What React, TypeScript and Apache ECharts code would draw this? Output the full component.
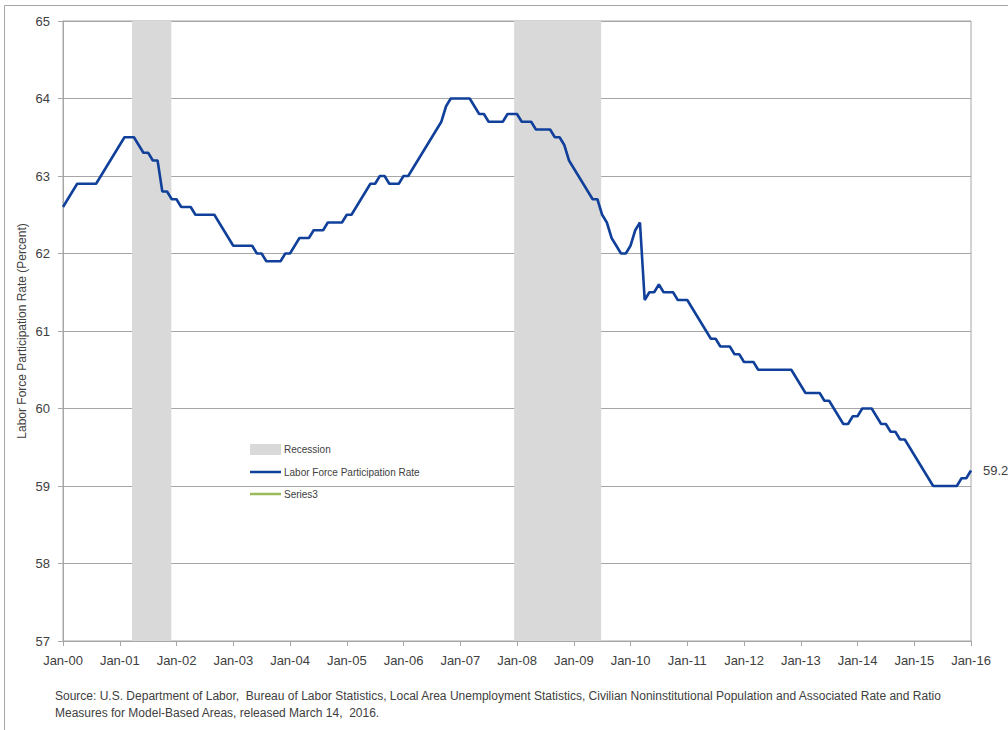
import React, { useEffect, useRef } from "react";
import * as echarts from "echarts";

// Tick labels along the x axis (one per January)
const xTickLabels = [
  "Jan-00", "Jan-01", "Jan-02", "Jan-03", "Jan-04", "Jan-05", "Jan-06", "Jan-07", "Jan-08",
  "Jan-09", "Jan-10", "Jan-11", "Jan-12", "Jan-13", "Jan-14", "Jan-15", "Jan-16",
];

// Monthly labor force participation rate, Jan 2000 .. Jan 2016
const participationRate = [
  62.6, 62.7, 62.8, 62.9, 62.9, 62.9, 62.9, 62.9, 63.0, 63.1, 63.2, 63.3, // 2000
  63.4, 63.5, 63.5, 63.5, 63.4, 63.3, 63.3, 63.2, 63.2, 62.8, 62.8, 62.7, // 2001
  62.7, 62.6, 62.6, 62.6, 62.5, 62.5, 62.5, 62.5, 62.5, 62.4, 62.3, 62.2, // 2002
  62.1, 62.1, 62.1, 62.1, 62.1, 62.0, 62.0, 61.9, 61.9, 61.9, 61.9, 62.0, // 2003
  62.0, 62.1, 62.2, 62.2, 62.2, 62.3, 62.3, 62.3, 62.4, 62.4, 62.4, 62.4, // 2004
  62.5, 62.5, 62.6, 62.7, 62.8, 62.9, 62.9, 63.0, 63.0, 62.9, 62.9, 62.9, // 2005
  63.0, 63.0, 63.1, 63.2, 63.3, 63.4, 63.5, 63.6, 63.7, 63.9, 64.0, 64.0, // 2006
  64.0, 64.0, 64.0, 63.9, 63.8, 63.8, 63.7, 63.7, 63.7, 63.7, 63.8, 63.8, // 2007
  63.8, 63.7, 63.7, 63.7, 63.6, 63.6, 63.6, 63.6, 63.5, 63.5, 63.4, 63.2, // 2008
  63.1, 63.0, 62.9, 62.8, 62.7, 62.7, 62.5, 62.4, 62.2, 62.1, 62.0, 62.0, // 2009
  62.1, 62.3, 62.4, 61.4, 61.5, 61.5, 61.6, 61.5, 61.5, 61.5, 61.4, 61.4, // 2010
  61.4, 61.3, 61.2, 61.1, 61.0, 60.9, 60.9, 60.8, 60.8, 60.8, 60.7, 60.7, // 2011
  60.6, 60.6, 60.6, 60.5, 60.5, 60.5, 60.5, 60.5, 60.5, 60.5, 60.5, 60.4, // 2012
  60.3, 60.2, 60.2, 60.2, 60.2, 60.1, 60.1, 60.0, 59.9, 59.8, 59.8, 59.9, // 2013
  59.9, 60.0, 60.0, 60.0, 59.9, 59.8, 59.8, 59.7, 59.7, 59.6, 59.6, 59.5, // 2014
  59.4, 59.3, 59.2, 59.1, 59.0, 59.0, 59.0, 59.0, 59.0, 59.0, 59.1, 59.1, // 2015
  59.2, // Jan 2016
];

// Recession shading, in months since Jan 2000
const recessionStart = [14.6, 95.4];
const recessionEnd = [22.9, 113.8];

const sourceLines = [
  "Source: U.S. Department of Labor,  Bureau of Labor Statistics, Local Area Unemployment Statistics, Civilian Noninstitutional Population and Associated Rate and Ratio",
  "Measures for Model-Based Areas, released March 14,  2016.",
];

export default function App() {
  const ref = useRef<HTMLDivElement>(null);

  useEffect(() => {
    document.body.style.margin = "0";
    const chart = echarts.init(ref.current!, null, { renderer: "svg" });
    const font = "'Liberation Sans', Arial, sans-serif";
    const gridColor = "#a6a6a6";
    const textColor = "#404040";
    const lineColor = "#10409a";
    const lineIcon = "path://M0,0 H62 V5 H0 Z";

    chart.setOption({
      animation: false,
      backgroundColor: "#ffffff",
      textStyle: { fontFamily: font },
      title: {
        text: sourceLines.join("\n"),
        left: 55,
        top: 687,
        padding: 0,
        textStyle: {
          fontSize: 12,
          fontWeight: "normal",
          color: textColor,
          lineHeight: 17,
          fontFamily: font,
        },
      },
      graphic: [
        {
          type: "rect",
          silent: true,
          z: -10,
          shape: { x: 4.5, y: 5.5, width: 1020, height: 740 },
          style: { fill: "none", stroke: gridColor, lineWidth: 1 },
        },
      ],
      legend: {
        orient: "vertical",
        left: 250,
        top: 444,
        padding: 0,
        itemWidth: 31,
        itemHeight: 11,
        itemGap: 12,
        symbolKeepAspect: true,
        selectedMode: false,
        textStyle: { fontSize: 10, color: textColor, fontFamily: font, padding: [0, 0, 0, -2] },
        data: [
          { name: "Recession", icon: "rect", itemStyle: { color: "#d9d9d9" } },
          { name: "Labor Force Participation Rate", icon: lineIcon, itemStyle: { color: lineColor } },
          { name: "Series3", icon: lineIcon, itemStyle: { color: "#9bbb59" } },
        ],
      },
      grid: {
        left: 63,
        right: 37,
        top: 21,
        bottom: 89,
        show: true,
        borderColor: gridColor,
        borderWidth: 1,
      },
      xAxis: {
        type: "value",
        min: 0,
        max: (xTickLabels.length - 1) * 12,
        interval: 12,
        axisLine: { show: true, lineStyle: { color: gridColor } },
        axisTick: { show: true, length: 5, lineStyle: { color: gridColor } },
        splitLine: { show: false },
        axisLabel: {
          formatter: (v: number) => xTickLabels[Math.round(v / 12)] ?? "",
          fontSize: 13,
          color: textColor,
          margin: 13,
        },
      },
      yAxis: {
        type: "value",
        min: 57,
        max: 65,
        interval: 1,
        name: "Labor Force Participation Rate (Percent)",
        nameLocation: "middle",
        nameGap: 35,
        nameMoveOverlap: false,
        nameRotate: 90,
        nameTextStyle: { fontSize: 12, color: textColor },
        axisLine: { show: true, lineStyle: { color: gridColor } },
        axisTick: { show: true, length: 5, lineStyle: { color: gridColor } },
        axisLabel: { fontSize: 13, color: textColor, margin: 13 },
        splitLine: { show: true, lineStyle: { color: gridColor, width: 1 } },
      },
      series: [
        {
          name: "Recession",
          type: "line",
          data: [],
          symbol: "none",
          z: 1,
          itemStyle: { color: "#d9d9d9" },
          lineStyle: { color: "#d9d9d9" },
          markArea: {
            silent: true,
            itemStyle: { color: "#d9d9d9", opacity: 1 },
            data: recessionStart.map((s, i) => [{ xAxis: s }, { xAxis: recessionEnd[i] }]),
          },
        },
        {
          name: "Labor Force Participation Rate",
          type: "line",
          data: participationRate.map((v, i) => [i, v]),
          symbol: "none",
          z: 3,
          itemStyle: { color: lineColor },
          lineStyle: { color: lineColor, width: 2.6 },
          endLabel: {
            show: true,
            distance: 12,
            fontSize: 13,
            color: textColor,
            formatter: (p: any) => Number(p.value[1]).toFixed(1),
          },
        },
        {
          name: "Series3",
          type: "line",
          data: [],
          symbol: "none",
          itemStyle: { color: "#9bbb59" },
          lineStyle: { color: "#9bbb59", width: 2.5 },
        },
      ],
    });

    return () => chart.dispose();
  }, []);

  return <div ref={ref} style={{ width: 1008, height: 730 }} />;
}
